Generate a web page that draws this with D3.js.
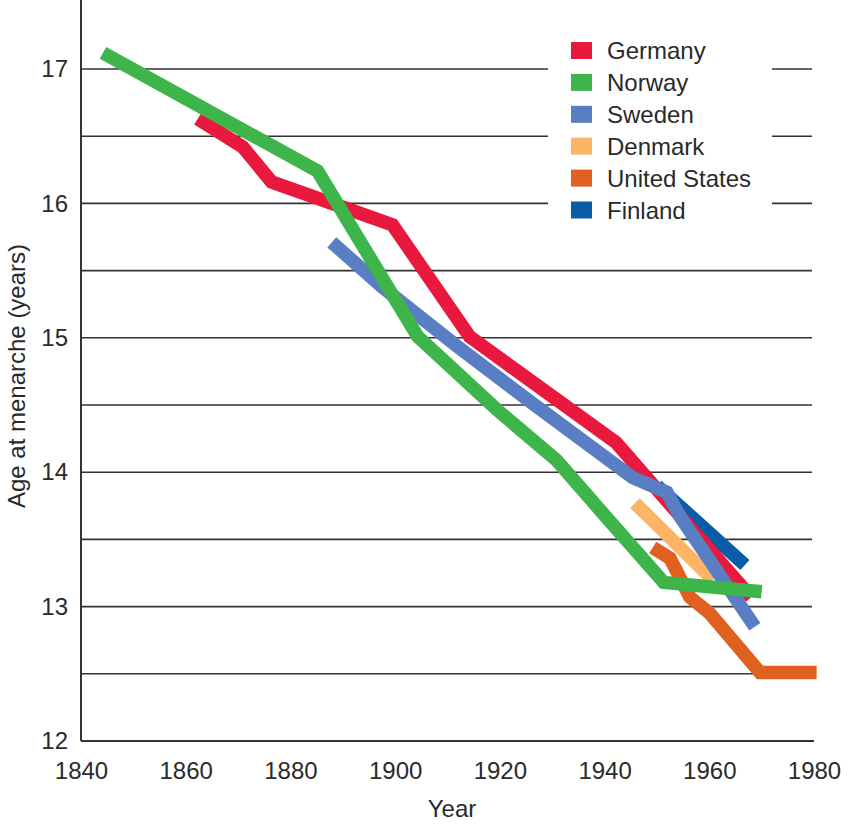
<!DOCTYPE html>
<html>
<head>
<meta charset="utf-8">
<script src="https://cdn.jsdelivr.net/npm/d3@7"></script>
<style>
  html, body { margin: 0; padding: 0; background: #fff; }
  svg { display: block; font-family: "Liberation Sans", Arial, sans-serif; }
</style>
</head>
<body>
<svg id="chart" width="851" height="825"></svg>
<script>
// ---- Data ----
const germanyYears = [1862.3, 1870.9, 1876.4, 1899.5, 1914.2, 1942.2, 1968.0];
const germanyAges  = [16.63, 16.42, 16.16, 15.84, 15.01, 14.22, 13.07];

const norwayYears = [1844.2, 1885.2, 1904.3, 1919.3, 1930.8, 1940.0, 1951.3, 1970.0];
const norwayAges  = [17.12, 16.24, 15.01, 14.47, 14.09, 13.68, 13.18, 13.11];

const swedenYears = [1887.9, 1897.5, 1912.4, 1926.3, 1945.4, 1951.9, 1954.4, 1968.7];
const swedenAges  = [15.71, 15.38, 14.92, 14.51, 13.96, 13.85, 13.67, 12.85];

const denmarkYears = [1945.8, 1960.7];
const denmarkAges  = [13.77, 13.20];

const usYears = [1949.2, 1952.5, 1956.3, 1960.1, 1969.7, 1980.5];
const usAges  = [13.44, 13.36, 13.07, 12.95, 12.51, 12.51];

const finlandYears = [1950.0, 1966.8];
const finlandAges  = [13.90, 13.31];

const seriesNames = ["Germany", "Norway", "Sweden", "Denmark", "United States", "Finland"];
const seriesColors = ["#e8193d", "#3db54a", "#5a7ec4", "#fbb565", "#e0601f", "#0b5ca6"];

const xTicks = [1840, 1860, 1880, 1900, 1920, 1940, 1960, 1980];
const yTicks = [12, 13, 14, 15, 16, 17];
const gridValues = [12.5, 13, 13.5, 14, 14.5, 15, 15.5, 16, 16.5, 17];

// ---- Build ----
const svg = d3.select("#chart");
const x = d3.scaleLinear().domain([1840, 1980]).range([81, 814]);
const y = d3.scaleLinear().domain([12, 17]).range([741, 69]);

// gridlines
svg.append("g").selectAll("line").data(gridValues).join("line")
  .attr("x1", x(1840)).attr("x2", 812)
  .attr("y1", d => y(d)).attr("y2", d => y(d))
  .attr("stroke", "#333").attr("stroke-width", 1.6);

// legend background (breaks gridlines)
svg.append("rect").attr("x", 548).attr("y", 28).attr("width", 224).attr("height", 200).attr("fill", "#fff");

// axes
const xAxis = svg.append("g").attr("transform", `translate(0,${y(12)})`)
  .call(d3.axisBottom(x).tickValues(xTicks).tickFormat(d3.format("d")).tickSize(0).tickPadding(21));
xAxis.select(".domain").attr("stroke", "#333").attr("stroke-width", 2).attr("d", `M${x(1840)},0H${x(1980)}`);
xAxis.selectAll("text").attr("font-size", 24).attr("fill", "#2a2a2a").attr("font-family", "Liberation Sans, Arial, sans-serif");

const yAxis = svg.append("g").attr("transform", `translate(${x(1840)},0)`)
  .call(d3.axisLeft(y).tickValues(yTicks).tickFormat(d3.format("d")).tickSize(0).tickPadding(13));
yAxis.select(".domain").attr("stroke", "#333").attr("stroke-width", 2).attr("d", `M0,0V${y(12)}`);
yAxis.selectAll("text").attr("font-size", 24).attr("fill", "#2a2a2a").attr("font-family", "Liberation Sans, Arial, sans-serif");

// axis titles
svg.append("text").attr("x", 452).attr("y", 817).attr("text-anchor", "middle")
  .attr("font-size", 24).attr("fill", "#2a2a2a").text("Year");
svg.append("text").attr("transform", "translate(25,376) rotate(-90)").attr("text-anchor", "middle")
  .attr("font-size", 24).attr("fill", "#2a2a2a").text("Age at menarche (years)");

// lines
const line = d3.line().x(d => x(d[0])).y(d => y(d[1]));
const allSeries = {
  "Germany": d3.zip(germanyYears, germanyAges),
  "Norway": d3.zip(norwayYears, norwayAges),
  "Sweden": d3.zip(swedenYears, swedenAges),
  "Denmark": d3.zip(denmarkYears, denmarkAges),
  "United States": d3.zip(usYears, usAges),
  "Finland": d3.zip(finlandYears, finlandAges)
};
const drawOrder = ["Finland", "Germany", "Denmark", "Sweden", "United States", "Norway"];
svg.append("g").selectAll("path").data(drawOrder).join("path")
  .attr("d", n => line(allSeries[n]))
  .attr("fill", "none")
  .attr("stroke", n => seriesColors[seriesNames.indexOf(n)])
  .attr("stroke-width", 13.5)
  .attr("stroke-linejoin", "miter")
  .attr("stroke-linecap", "butt");

// legend
const leg = svg.append("g").selectAll("g").data(seriesNames).join("g")
  .attr("transform", (d, i) => `translate(571,${50.5 + i * 31.9})`);
leg.append("rect").attr("x", 0).attr("y", -8.5).attr("width", 21).attr("height", 17)
  .attr("fill", (d, i) => seriesColors[i]);
leg.append("text").attr("x", 36).attr("y", 0).attr("dy", "0.36em")
  .attr("font-size", 24).attr("fill", "#2a2a2a").text(d => d);
</script>
</body>
</html>
